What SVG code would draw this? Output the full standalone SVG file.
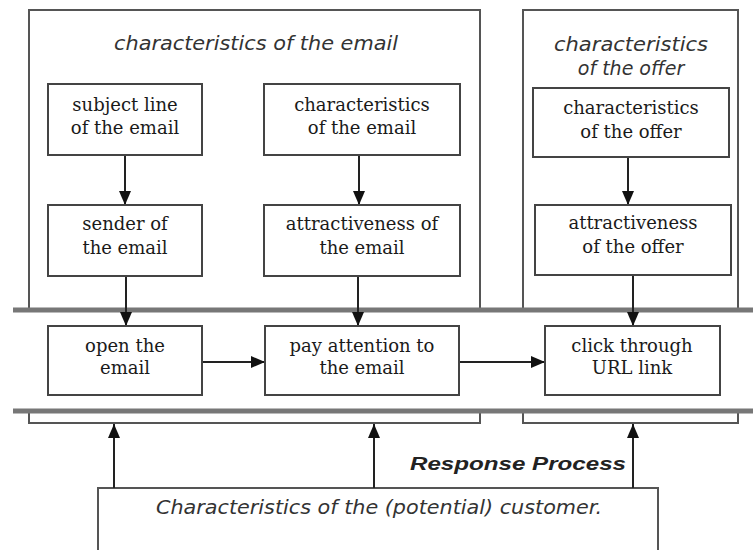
<svg xmlns="http://www.w3.org/2000/svg" width="753" height="550" viewBox="0 0 753 550">
  <style>
    .frame { fill: none; stroke: #555; stroke-width: 2; }
    .box { fill: #fff; stroke: #444; stroke-width: 2; }
    .lbl { font-family: "DejaVu Serif", "Liberation Serif", serif; font-size: 18px; fill: #1a1a1a; text-anchor: middle; }
    .ttl { font-family: "DejaVu Sans", "Liberation Sans", sans-serif; font-style: italic; font-size: 19px; fill: #333; text-anchor: middle; }
    .band { stroke: #777; stroke-width: 5; }
    .conn { stroke: #222; stroke-width: 2; fill: none; marker-end: url(#arrow); }
  </style>
  <defs>
    <marker id="arrow" markerUnits="userSpaceOnUse" markerWidth="14" markerHeight="12" refX="14" refY="6" orient="auto">
      <path d="M0,0 L14,6 L0,12 z" fill="#111"/>
    </marker>
  </defs>
  <rect width="753" height="550" fill="#fff"/>

  <!-- outer groupings -->
  <g id="email-group">
    <rect class="frame" x="29" y="10" width="451" height="413"/>
    <text class="ttl" x="256" y="50" textLength="284" lengthAdjust="spacingAndGlyphs">characteristics of the email</text>
  </g>
  <g id="offer-group">
    <rect class="frame" x="523" y="10" width="215" height="413"/>
    <text class="ttl" x="631" y="51" textLength="154" lengthAdjust="spacingAndGlyphs">characteristics</text>
    <text class="ttl" x="631" y="75">of the offer</text>
  </g>

  <!-- response process band -->
  <g id="response-band">
    <rect x="13" y="310" width="740" height="101" fill="#fff"/>
    <line class="band" x1="13" y1="310" x2="753" y2="310"/>
    <line class="band" x1="13" y1="411" x2="753" y2="411"/>
    <text x="518" y="470" font-family="Liberation Sans, Arial, sans-serif" font-size="19" font-weight="bold" font-style="italic" fill="#222" text-anchor="middle" textLength="216" lengthAdjust="spacingAndGlyphs">Response Process</text>
  </g>

  <!-- customer -->
  <g id="customer">
    <path class="frame" d="M98,552 V488 H658 V552"/>
    <text class="ttl" x="379" y="514" textLength="446" lengthAdjust="spacingAndGlyphs">Characteristics of the (potential) customer.</text>
  </g>

  <!-- connectors -->
  <g id="connectors">
    <line class="conn" x1="125" y1="155" x2="125" y2="205"/>
    <line class="conn" x1="359" y1="155" x2="359" y2="205"/>
    <line class="conn" x1="628" y1="157" x2="628" y2="205"/>
    <line class="conn" x1="126" y1="276" x2="126" y2="326"/>
    <line class="conn" x1="358" y1="276" x2="358" y2="326"/>
    <line class="conn" x1="633" y1="275" x2="633" y2="326"/>
    <line class="conn" x1="202" y1="362" x2="265" y2="362"/>
    <line class="conn" x1="459" y1="362" x2="545" y2="362"/>
    <line class="conn" x1="114" y1="488" x2="114" y2="424"/>
    <line class="conn" x1="374" y1="488" x2="374" y2="424"/>
    <line class="conn" x1="633" y1="488" x2="633" y2="424"/>
  </g>

  <!-- nodes -->
  <g id="subject-line">
    <rect class="box" x="48" y="84" width="154" height="71"/>
    <text class="lbl" x="125" y="111">subject line</text>
    <text class="lbl" x="125" y="134">of the email</text>
  </g>
  <g id="email-characteristics">
    <rect class="box" x="264" y="84" width="196" height="71"/>
    <text class="lbl" x="362" y="111">characteristics</text>
    <text class="lbl" x="362" y="134">of the email</text>
  </g>
  <g id="sender">
    <rect class="box" x="48" y="205" width="154" height="71"/>
    <text class="lbl" x="125" y="230">sender of</text>
    <text class="lbl" x="125" y="254">the email</text>
  </g>
  <g id="email-attractiveness">
    <rect class="box" x="264" y="205" width="196" height="71"/>
    <text class="lbl" x="362" y="230">attractiveness of</text>
    <text class="lbl" x="362" y="254">the email</text>
  </g>
  <g id="offer-characteristics">
    <rect class="box" x="533" y="88" width="196" height="69"/>
    <text class="lbl" x="631" y="114">characteristics</text>
    <text class="lbl" x="631" y="138">of the offer</text>
  </g>
  <g id="offer-attractiveness">
    <rect class="box" x="535" y="205" width="196" height="70"/>
    <text class="lbl" x="633" y="229">attractiveness</text>
    <text class="lbl" x="633" y="253">of the offer</text>
  </g>
  <g id="open-email">
    <rect class="box" x="48" y="326" width="154" height="69"/>
    <text class="lbl" x="125" y="352">open the</text>
    <text class="lbl" x="125" y="374">email</text>
  </g>
  <g id="pay-attention">
    <rect class="box" x="265" y="326" width="194" height="69"/>
    <text class="lbl" x="362" y="352">pay attention to</text>
    <text class="lbl" x="362" y="374">the email</text>
  </g>
  <g id="click-through">
    <rect class="box" x="545" y="326" width="175" height="69"/>
    <text class="lbl" x="632" y="352">click through</text>
    <text class="lbl" x="632" y="374">URL link</text>
  </g>
</svg>
